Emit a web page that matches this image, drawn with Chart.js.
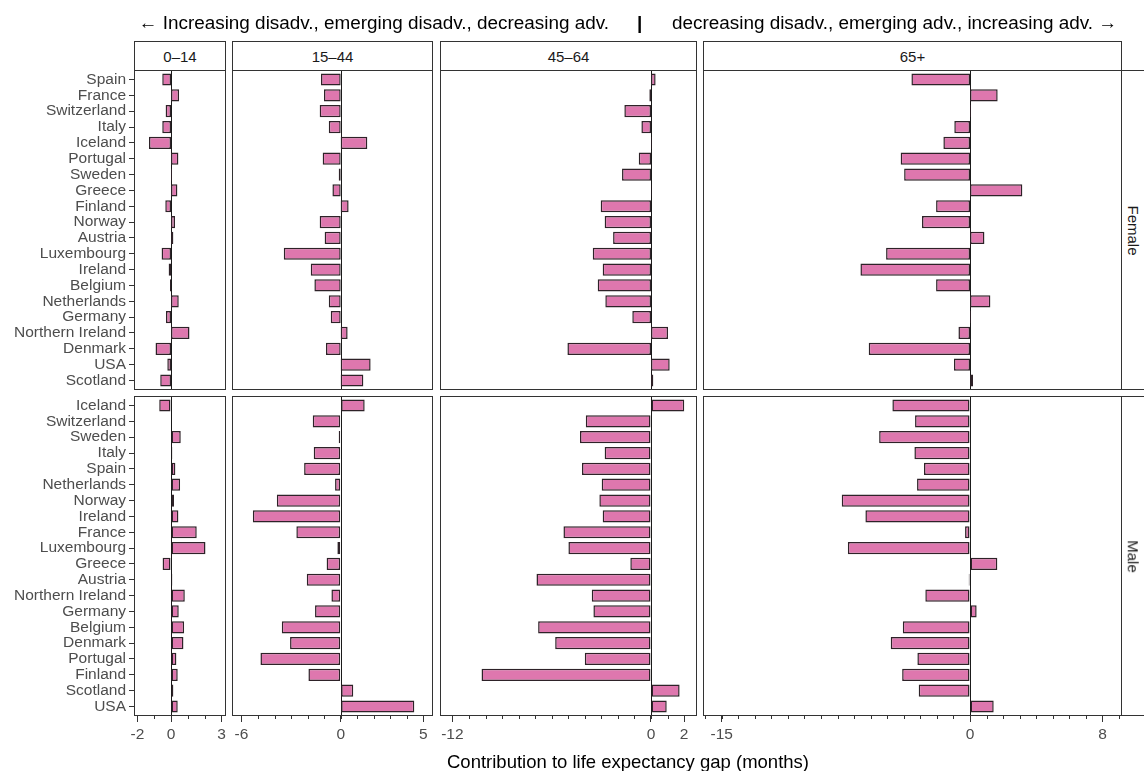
<!DOCTYPE html>
<html>
<head>
<meta charset="utf-8">
<title>Contribution to life expectancy gap</title>
<script src="https://cdn.jsdelivr.net/npm/chart.js@4.4.1/dist/chart.umd.min.js"></script>
<style>
  html, body { margin: 0; padding: 0; background: #fff; }
  body { width: 1144px; height: 771px; overflow: hidden; position: relative;
         font-family: "Liberation Sans", Arial, sans-serif; }
  canvas { position: absolute; left: 0; top: 0; }
  .strip { position: absolute; box-sizing: border-box; border: 1px solid #333; background: #fff;
           color: #1a1a1a; font-size: 15px; display: flex; align-items: center; justify-content: center; }
  .vstrip span { display: inline-block; transform: rotate(90deg); white-space: nowrap; }
  .caption { position: absolute; top: 12px; font-size: 18.9px; line-height: 22px; color: #000; white-space: nowrap; }
  .xtitle { position: absolute; top: 751px; left: 134px; width: 988px; text-align: center;
            font-size: 18.5px; line-height: 22px; color: #000; white-space: nowrap; }
</style>
</head>
<body>
<script>
// ---- data -------------------------------------------------------------
const ageGroups = ['0–14', '15–44', '45–64', '65+'];
const sexes = ['Female', 'Male'];

const femaleCountries = ['Spain', 'France', 'Switzerland', 'Italy', 'Iceland', 'Portugal', 'Sweden',
  'Greece', 'Finland', 'Norway', 'Austria', 'Luxembourg', 'Ireland', 'Belgium', 'Netherlands',
  'Germany', 'Northern Ireland', 'Denmark', 'USA', 'Scotland'];
const maleCountries = ['Iceland', 'Switzerland', 'Sweden', 'Italy', 'Spain', 'Netherlands', 'Norway',
  'Ireland', 'France', 'Luxembourg', 'Greece', 'Austria', 'Northern Ireland', 'Germany', 'Belgium',
  'Denmark', 'Portugal', 'Finland', 'Scotland', 'USA'];

// contribution to the life expectancy gap, months
const female0to14 = [-0.52, 0.48, -0.32, -0.52, -1.31, 0.44, 0.06, 0.38, -0.34, 0.24,
  0.14, -0.56, -0.14, -0.06, 0.46, -0.30, 1.10, -0.92, -0.22, -0.64];
const female15to44 = [-1.19, -1.01, -1.27, -0.72, 1.61, -1.09, -0.12, -0.50, 0.48, -1.27,
  -0.97, -3.44, -1.81, -1.59, -0.72, -0.60, 0.42, -0.89, 1.81, 1.37];
const female45to64 = [0.28, -0.10, -1.61, -0.58, 0.05, -0.74, -1.75, 0.04, -3.04, -2.80,
  -2.29, -3.52, -2.92, -3.22, -2.76, -1.13, 1.03, -5.05, 1.13, 0.14];
const female65plus = [-3.54, 1.67, 0.06, -0.95, -1.61, -4.19, -3.98, 3.16, -2.05, -2.90,
  0.87, -5.07, -6.62, -2.05, 1.23, 0.06, -0.70, -6.12, -0.97, 0.18];

const male0to14 = [-0.70, 0.00, 0.58, 0.08, 0.26, 0.54, 0.18, 0.44, 1.53, 2.05,
  -0.50, 0.08, 0.82, 0.46, 0.78, 0.74, 0.32, 0.40, 0.14, 0.40];
const male15to44 = [1.45, -1.69, -0.12, -1.63, -2.21, -0.34, -3.86, -5.31, -2.68, -0.20,
  -0.85, -2.05, -0.56, -1.55, -3.56, -3.06, -4.85, -1.95, 0.76, 4.45];
const male45to64 = [2.01, -3.94, -4.29, -2.80, -4.17, -2.98, -3.12, -2.92, -5.29, -4.99,
  -1.25, -6.92, -3.58, -3.48, -6.82, -5.79, -4.00, -10.24, 1.73, 0.95];
const male65plus = [-4.69, -3.32, -5.49, -3.36, -2.78, -3.20, -7.75, -6.32, -0.30, -7.38,
  1.65, -0.08, -2.70, 0.40, -4.06, -4.79, -3.18, -4.10, -3.10, 1.43];

// labelled ticks on each age-group axis
const ticks0to14 = [-2, 0, 3];
const ticks15to44 = [-6, 0, 5];
const ticks45to64 = [-12, 0, 2];
const ticks65plus = [-15, 0, 8];

const captionLeft = '← Increasing disadv., emerging disadv., decreasing adv.';
const captionRight = 'decreasing disadv., emerging adv., increasing adv. →';
const xTitle = 'Contribution to life expectancy gap (months)';

// ---- layout -----------------------------------------------------------
const W = 1144, H = 771;
const Y_AXIS_W = 134, X_AXIS_H = 30;
const columns = [
  { left: 134, right: 226, min: -2.2, max: 3.27 },
  { left: 232, right: 433, min: -6.57, max: 5.58 },
  { left: 440, right: 697, min: -12.75, max: 2.78 },
  { left: 703, right: 1122, min: -16.13, max: 9.18 }
];
const rowsLayout = [{ top: 70, bottom: 390 }, { top: 396, bottom: 716 }];

const seriesGrid = [
  [female0to14, female15to44, female45to64, female65plus],
  [male0to14, male15to44, male45to64, male65plus]
];
const rowCountries = [femaleCountries, maleCountries];
const majorTicks = [ticks0to14, ticks15to44, ticks45to64, ticks65plus];

const INK = '#333333';
const TEXT = '#4d4d4d';

// panel frame, zero reference line and small unlabelled ticks
const panelFrame = {
  id: 'panelFrame',
  beforeDatasetsDraw(chart) {
    const { ctx, chartArea: a } = chart;
    const x0 = Math.round(chart.scales.x.getPixelForValue(0)) + 0.5;
    ctx.save();
    ctx.strokeStyle = '#1a1a1a';
    ctx.lineWidth = 1;
    ctx.beginPath();
    ctx.moveTo(x0, a.top);
    ctx.lineTo(x0, a.bottom);
    ctx.stroke();
    ctx.restore();
  },
  afterDraw(chart, args, opts) {
    const { ctx, chartArea: a } = chart;
    ctx.save();
    ctx.strokeStyle = INK;
    ctx.lineWidth = 1;
    ctx.strokeRect(a.left + 0.5, a.top + 0.5, a.right - a.left - 1, a.bottom - a.top - 1);
    if (opts.minor) {
      const s = chart.scales.x;
      ctx.beginPath();
      for (let v = Math.ceil(s.min); v <= Math.floor(s.max); v++) {
        const px = Math.round(s.getPixelForValue(v)) + 0.5;
        ctx.moveTo(px, a.bottom);
        ctx.lineTo(px, a.bottom + 3);
      }
      ctx.stroke();
    }
    ctx.restore();
  }
};

Chart.defaults.font.family = '"Liberation Sans", Arial, sans-serif';

rowsLayout.forEach((row, r) => {
  columns.forEach((col, c) => {
    const labels = rowCountries[r];
    const values = seriesGrid[r][c];
    const majors = majorTicks[c];
    const firstCol = c === 0;
    const bottomRow = r === rowsLayout.length - 1;

    const canvas = document.createElement('canvas');
    canvas.width = W;
    canvas.height = H;
    document.body.appendChild(canvas);

    new Chart(canvas, {
      type: 'bar',
      data: {
        datasets: [{
          data: values.map((v, i) => ({ x: v, y: i })),
          backgroundColor: '#de77ae',
          borderColor: '#2e2228',
          borderWidth: 1.5,
          borderSkipped: false,
          barPercentage: 0.77,
          categoryPercentage: 1
        }]
      },
      options: {
        indexAxis: 'y',
        responsive: false,
        animation: false,
        devicePixelRatio: 1,
        layout: {
          padding: {
            left: firstCol ? col.left - Y_AXIS_W : col.left,
            top: row.top,
            right: W - col.right,
            bottom: H - row.bottom - (bottomRow ? X_AXIS_H : 0)
          }
        },
        plugins: {
          legend: { display: false },
          tooltip: { enabled: false },
          panelFrame: { minor: bottomRow }
        },
        scales: {
          x: {
            type: 'linear',
            position: 'bottom',
            min: col.min,
            max: col.max,
            display: bottomRow,
            afterBuildTicks: s => { s.ticks = majors.map(v => ({ value: v })); },
            afterFit: s => {
              if (!bottomRow) return;
              s.height = X_AXIS_H; s.paddingLeft = 0; s.paddingRight = 0;
            },
            grid: { drawOnChartArea: false, drawTicks: true, tickLength: 6, tickColor: INK, lineWidth: 1 },
            border: { display: false },
            ticks: { autoSkip: false, maxRotation: 0, padding: 3, color: TEXT,
                     font: { size: 15.5 }, callback: v => String(v) }
          },
          y: {
            type: 'linear',
            offset: false,
            min: -0.6,
            max: labels.length - 0.4,
            reverse: true,
            display: firstCol,
            afterBuildTicks: s => { s.ticks = labels.map((_, i) => ({ value: i })); },
            afterFit: s => {
              if (!firstCol) return;
              s.width = Y_AXIS_W; s.paddingTop = 0; s.paddingBottom = 0;
            },
            grid: { offset: false, drawOnChartArea: false, drawTicks: true, tickLength: 5, tickColor: INK, lineWidth: 1 },
            border: { display: false },
            ticks: { autoSkip: false, padding: 3, color: TEXT, font: { size: 15.5 },
                     callback: v => labels[v] }
          }
        }
      },
      plugins: [panelFrame]
    });
  });
});

// facet strips
columns.forEach((col, c) => {
  const d = document.createElement('div');
  d.className = 'strip';
  Object.assign(d.style, { left: col.left + 'px', top: '41px', width: (col.right - col.left) + 'px', height: '30px' });
  d.textContent = ageGroups[c];
  document.body.appendChild(d);
});
rowsLayout.forEach((row, r) => {
  const d = document.createElement('div');
  d.className = 'strip vstrip';
  const right = columns[columns.length - 1].right;
  Object.assign(d.style, { left: (right - 1) + 'px', top: row.top + 'px', width: '24px', height: (row.bottom - row.top) + 'px' });
  const s = document.createElement('span');
  s.textContent = sexes[r];
  d.appendChild(s);
  document.body.appendChild(d);
});

// caption above the panels and the shared axis title
const capL = document.createElement('div');
capL.className = 'caption';
capL.style.right = (W - 609) + 'px';
capL.textContent = captionLeft;
const capM = document.createElement('div');
capM.className = 'caption';
capM.style.left = '637px';
capM.style.fontWeight = 'bold';
capM.textContent = '|';
const capR = document.createElement('div');
capR.className = 'caption';
capR.style.left = '672px';
capR.textContent = captionRight;
const xt = document.createElement('div');
xt.className = 'xtitle';
xt.textContent = xTitle;
[capL, capM, capR, xt].forEach(e => document.body.appendChild(e));
</script>
</body>
</html>
